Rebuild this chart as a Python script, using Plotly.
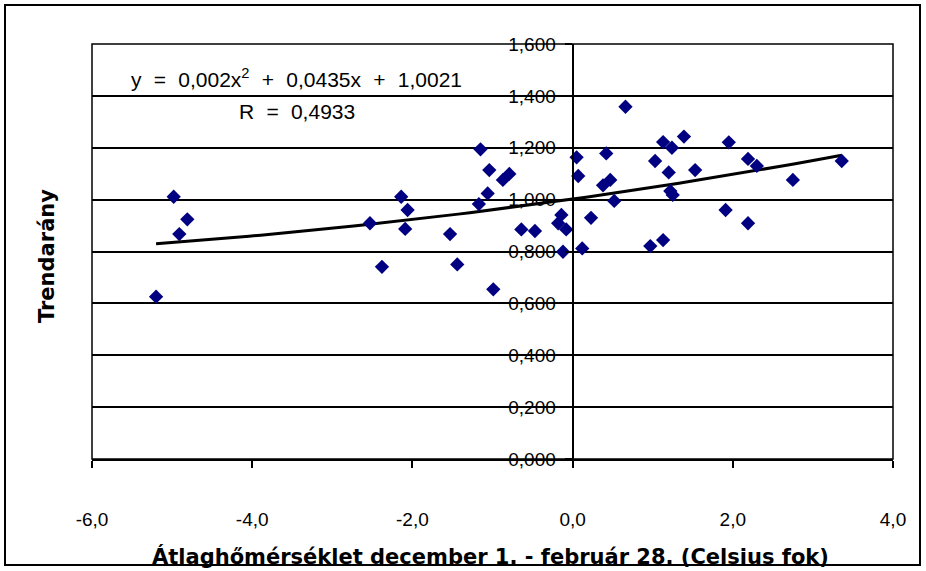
import plotly.graph_objects as go

# Data
temp = [-5.20, -4.98, -4.91, -4.81, -2.53, -2.38, -2.14, -2.09, -2.06, -1.53,
        -1.44, -1.17, -1.15, -1.06, -1.04, -0.99, -0.87, -0.79, -0.64, -0.47,
        -0.18, -0.14, -0.12, -0.08, 0.05, 0.07, 0.12, 0.23, 0.38, 0.42,
        0.47, 0.52, 0.66, 0.97, 1.03, 1.13, 1.13, 1.20, 1.22, 1.24,
        1.25, 1.39, 1.53, 1.91, 1.95, 2.19, 2.19, 2.30, 2.75, 3.36]
ratio = [0.626, 1.011, 0.867, 0.924, 0.909, 0.741, 1.011, 0.887, 0.960, 0.867,
         0.750, 0.983, 1.194, 1.024, 1.114, 0.654, 1.076, 1.099, 0.885, 0.879,
         0.909, 0.941, 0.799, 0.885, 1.163, 1.091, 0.812, 0.930, 1.055, 1.178,
         1.076, 0.995, 1.358, 0.821, 1.149, 1.222, 0.844, 1.105, 1.033, 1.200,
         1.018, 1.243, 1.114, 0.960, 1.221, 1.157, 0.909, 1.130, 1.076, 1.149]

# Trendline coefficients as printed on the chart (y = a x^2 + b x + c)
trend_coef = [0.002, 0.0435, 1.0021]
x_ticks = [-6, -4, -2, 0, 2, 4]
x_tick_labels = ["-6,0", "-4,0", "-2,0", "0,0", "2,0", "4,0"]
y_ticks = [0, 0.2, 0.4, 0.6, 0.8, 1.0, 1.2, 1.4, 1.6]

xmin, xmax = min(temp), max(temp)
n = 60
trend_x = [xmin + (xmax - xmin) * i / (n - 1) for i in range(n)]
trend_y = [trend_coef[0] * t * t + trend_coef[1] * t + trend_coef[2] for t in trend_x]

W, H = 926, 571
L, R, T, B = 92, 33, 44, 112
PW, PH = W - L - R, H - T - B

def fx(px):
    return (px - L) / PW

def fy(py):
    return (H - B - py) / PH

FONT = "Liberation Sans, Arial, sans-serif"
BOLD_FONT = "DejaVu Sans, Liberation Sans, sans-serif"

fig = go.Figure()
fig.add_trace(go.Scatter(x=trend_x, y=trend_y, mode="lines",
                         line=dict(color="black", width=3), hoverinfo="skip"))
fig.add_trace(go.Scatter(x=temp, y=ratio, mode="markers",
                         marker=dict(symbol="diamond", size=11, color="#000080",
                                     line=dict(width=0))))

fig.update_layout(
    width=W, height=H,
    margin=dict(l=L, r=R, t=T, b=B),
    paper_bgcolor="white", plot_bgcolor="white",
    separators=",.",
    showlegend=False,
    font=dict(family=FONT, size=19, color="black"),
    xaxis=dict(range=[-6, 4], tickvals=x_ticks, ticktext=x_tick_labels,
               showgrid=False, zeroline=False,
               showline=True, linecolor="black", linewidth=2,
               ticks="outside", ticklen=7, tickwidth=1.5, tickcolor="black",
               ticklabelstandoff=35,
               tickfont=dict(size=19)),
    yaxis=dict(range=[0, 1.6], tickvals=y_ticks, tickformat=".3f",
               anchor="free", position=0.6,
               showgrid=True, gridcolor="black", gridwidth=1.5,
               zeroline=False,
               showline=True, linecolor="black", linewidth=2,
               ticks="outside", ticklen=7, tickwidth=1.5, tickcolor="black",
               ticklabelstandoff=5,
               tickfont=dict(size=19)),
)

# plot area border
fig.add_shape(type="rect", xref="paper", yref="paper", x0=0, x1=1, y0=0, y1=1,
              line=dict(color="black", width=1.5), layer="below")
# outer chart border
fig.add_shape(type="rect", xref="paper", yref="paper",
              x0=fx(5), x1=fx(920), y0=fy(565), y1=fy(5),
              line=dict(color="black", width=2))

# axis titles
fig.add_annotation(text="<b>Átlaghőmérséklet december 1. - február 28. (Celsius fok)</b>",
                   xref="paper", yref="paper", x=fx(490), y=fy(556),
                   showarrow=False, font=dict(size=21, family=BOLD_FONT),
                   xanchor="center", yanchor="middle")
fig.add_annotation(text="<b>Trendarány</b>", xref="paper", yref="paper",
                   x=fx(47), y=fy(256), textangle=-90, showarrow=False,
                   font=dict(size=21, family=BOLD_FONT), xanchor="center", yanchor="middle")

sp = "\u2002\u200a"
fig.add_annotation(text=f"y{sp}={sp}0,002x<sup>2</sup>{sp}+{sp}0,0435x{sp}+{sp}1,0021",
                   xref="paper", yref="paper", x=fx(296), y=fy(78),
                   showarrow=False, font=dict(size=21),
                   xanchor="center", yanchor="middle")
fig.add_annotation(text=f"R{sp}={sp}0,4933",
                   xref="paper", yref="paper", x=fx(297), y=fy(111),
                   showarrow=False, font=dict(size=21),
                   xanchor="center", yanchor="middle")

fig.write_html("out.html", config={"displayModeBar": False},
               post_script="document.body.style.margin='0px';")
